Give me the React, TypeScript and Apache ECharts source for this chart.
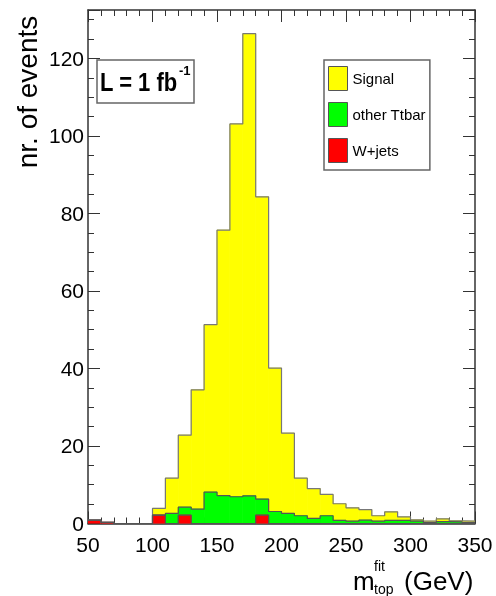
import React, { useEffect, useRef } from "react";
import * as echarts from "echarts";

const binStarts = [50, 60, 70, 80, 90, 100, 110, 120, 130, 140, 150, 160, 170, 180, 190, 200, 210, 220, 230, 240, 250, 260, 270, 280, 290, 300, 310, 320, 330, 340];
const binWidth = 10;
const wjets = [0.85, 0.3, 0, 0, 0, 2.15, 0, 2.15, 0, 0, 0, 0, 0, 2.15, 0, 0, 0, 0, 0, 0, 0, 0, 0, 0, 0, 0, 0, 0, 0, 0];
const ttbar = [0, 0, 0, 0, 0, 0, 2.6, 2.05, 3.7, 8.1, 7.2, 6.9, 7.15, 4.15, 3.1, 2.6, 2.0, 1.3, 2.0, 0.8, 0.6, 0.85, 0.6, 0.8, 0.8, 0.6, 0.2, 0.5, 0.4, 0.2];
const signal = [0, 0, 0, 0, 0, 1.75, 9.1, 18.6, 30.8, 43.2, 68.5, 96.2, 119.25, 78.0, 37.0, 20.7, 9.7, 7.7, 5.5, 4.3, 3.45, 2.75, 1.4, 2.2, 0.9, 0.35, 0.4, 0.7, 0.3, 0.4];
const seriesNames = ["Signal", "other Ttbar", "W+jets"];
const xMin = 50;
const xMax = 350;
const yMax = 132.5;

const FONT = "'Liberation Sans', Arial, Helvetica, sans-serif";
const AXIS_COLOR = "#333";

export default function App() {
  const ref = useRef<HTMLDivElement>(null);
  useEffect(() => {
    const chart = echarts.init(ref.current!, null, { renderer: "svg" });
    const zero = binStarts.map(() => 0);
    const lvl1 = wjets.slice();
    const lvl2 = lvl1.map((v, i) => v + ttbar[i]);
    const lvl3 = lvl2.map((v, i) => v + signal[i]);
    const rects = (lo: number[], hi: number[]) =>
      binStarts.map((b, i) => [b, b + binWidth, lo[i], hi[i]]);
    const step = (lv: number[]) => [
      ...binStarts.map((b, i) => [b, lv[i]]),
      [binStarts[binStarts.length - 1] + binWidth, lv[lv.length - 1]],
    ];
    const renderItem = (params: any, api: any) => {
      const p0 = api.coord([api.value(0), api.value(3)]);
      const p1 = api.coord([api.value(1), api.value(2)]);
      const h = p1[1] - p0[1];
      if (h <= 0.01) return null;
      const c = api.visual("color");
      return {
        type: "rect",
        shape: { x: p0[0], y: p0[1], width: p1[0] - p0[0], height: h },
        style: { fill: c, stroke: c, lineWidth: 0.8 },
      };
    };
    const xAxisBase = {
      type: "value",
      min: xMin,
      max: xMax,
      interval: 50,
      axisLine: { show: true, onZero: false, lineStyle: { color: AXIS_COLOR, width: 1.5 } },
      axisTick: { show: true, inside: true, length: 12, lineStyle: { color: AXIS_COLOR, width: 1 } },
      minorTick: { show: true, splitNumber: 5, length: 6, lineStyle: { color: AXIS_COLOR, width: 1 } },
      splitLine: { show: false },
    };
    const yAxisBase = {
      type: "value",
      min: 0,
      max: yMax,
      interval: 20,
      axisLine: { show: true, onZero: false, lineStyle: { color: AXIS_COLOR, width: 1.5 } },
      axisTick: { show: true, inside: true, length: 12, lineStyle: { color: AXIS_COLOR, width: 1 } },
      minorTick: { show: true, splitNumber: 4, length: 6, lineStyle: { color: AXIS_COLOR, width: 1 } },
      splitLine: { show: false },
    };
    const colors = ["#ffff00", "#00ff00", "#ff0000"];
    const custom = (name: string, data: number[][], color: string) => ({
      type: "custom",
      name,
      renderItem,
      data,
      encode: { x: [0, 1], y: [2, 3] },
      itemStyle: { color, borderColor: "#555", borderWidth: 1 },
      clip: true,
      z: 2,
      silent: true,
    });
    const outline = (name: string, lv: number[], color: string) => ({
      type: "line",
      name,
      data: step(lv),
      step: "end",
      symbol: "none",
      lineStyle: { color, width: 1.2 },
      z: 4,
      silent: true,
      clip: true,
    });
    chart.setOption({
      animation: false,
      grid: { left: 88, right: 21, top: 10, bottom: 72.5 },
      xAxis: [
        {
          ...xAxisBase,
          position: "bottom",
          axisLabel: { fontSize: 21, color: "#000", margin: 10, fontFamily: FONT },
        },
        { ...xAxisBase, position: "top", axisLabel: { show: false } },
      ],
      yAxis: [
        {
          ...yAxisBase,
          position: "left",
          axisLabel: { fontSize: 21, color: "#000", margin: 4, fontFamily: FONT, showMaxLabel: false },
        },
        { ...yAxisBase, position: "right", axisLabel: { show: false } },
      ],
      legend: {
        data: seriesNames,
        orient: "vertical",
        left: 324,
        top: 60,
        itemWidth: 19,
        itemHeight: 24,
        itemGap: 11,
        padding: [6, 4, 7, 4],
        borderColor: "#666",
        borderWidth: 1.5,
        backgroundColor: "#fff",
        icon: "rect",
        itemStyle: { borderColor: "#555", borderWidth: 1 },
        textStyle: { fontSize: 15, color: "#000", fontFamily: FONT },
        selectedMode: false,
      },
      series: [
        custom(seriesNames[0], rects(lvl2, lvl3), colors[0]),
        custom(seriesNames[1], rects(lvl1, lvl2), colors[1]),
        custom(seriesNames[2], rects(zero, lvl1), colors[2]),
        outline("o3", lvl3, "#777"),
        outline("o2", lvl2, "#555"),
        outline("o1", lvl1, "#555"),
      ],
      graphic: [
        {
          type: "rect",
          shape: { x: 97, y: 60, width: 97, height: 43 },
          style: { fill: "#fff", stroke: "#666", lineWidth: 1.5 },
          z: 10,
        },
        {
          type: "text",
          x: 100,
          y: 83,
          scaleX: 0.88,
          style: { text: "L = 1 fb", fontSize: 25, fontWeight: "bold", fontFamily: FONT, fill: "#000", align: "left", verticalAlign: "middle" },
          z: 11,
        },
        {
          type: "text",
          x: 179,
          y: 70,
          style: { text: "-1", fontSize: 13, fontWeight: "bold", fontFamily: FONT, fill: "#000", align: "left", verticalAlign: "middle" },
          z: 11,
        },
        {
          type: "text",
          x: 27,
          y: 92,
          rotation: Math.PI / 2,
          style: { text: "nr. of events", fontSize: 28, fontFamily: FONT, fill: "#000", align: "center", verticalAlign: "middle" },
        },
        {
          type: "text",
          x: 353,
          y: 581,
          style: { text: "m", fontSize: 26, fontFamily: FONT, fill: "#000", align: "left", verticalAlign: "middle" },
        },
        {
          type: "text",
          x: 374,
          y: 566,
          style: { text: "fit", fontSize: 14, fontFamily: FONT, fill: "#000", align: "left", verticalAlign: "middle" },
        },
        {
          type: "text",
          x: 374,
          y: 589,
          style: { text: "top", fontSize: 14, fontFamily: FONT, fill: "#000", align: "left", verticalAlign: "middle" },
        },
        {
          type: "text",
          x: 404,
          y: 581,
          style: { text: "(GeV)", fontSize: 26, fontFamily: FONT, fill: "#000", align: "left", verticalAlign: "middle" },
        },
      ],
    });
    return () => chart.dispose();
  }, []);
  return <div ref={ref} style={{ position: "fixed", left: 0, top: 0, width: 496, height: 596 }} />;
}
